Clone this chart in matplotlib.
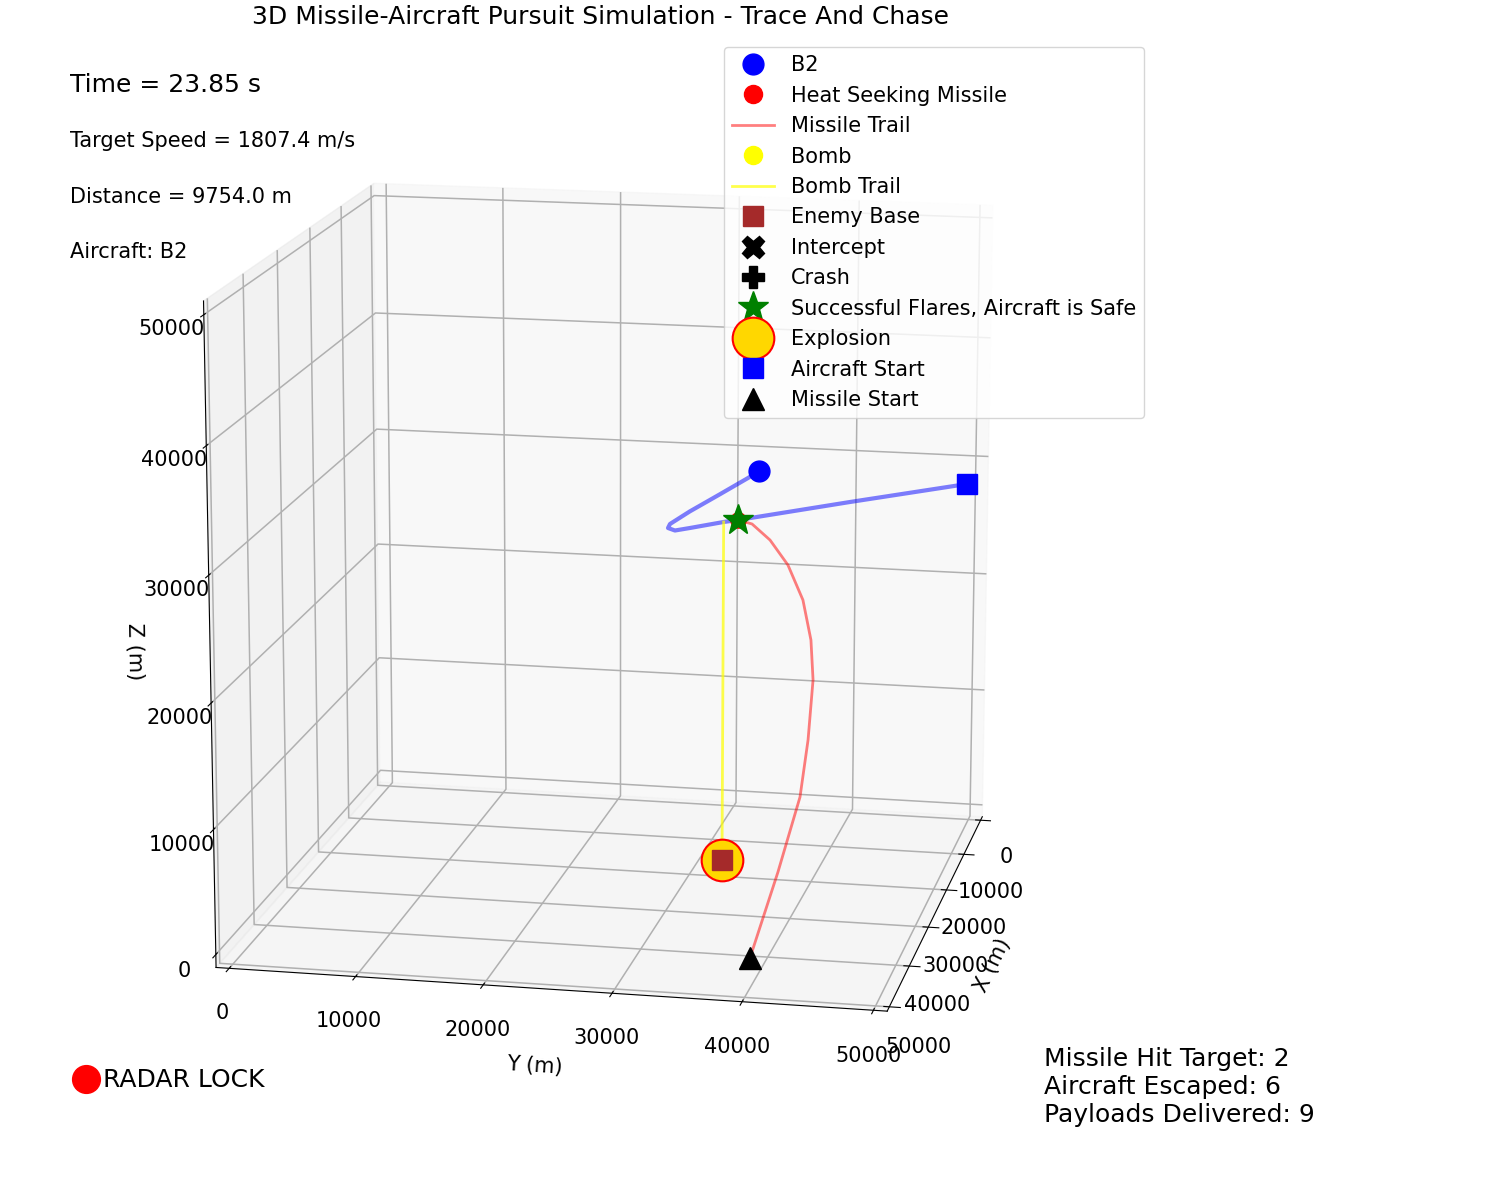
import matplotlib
matplotlib.use("Agg")
import matplotlib.pyplot as plt
from matplotlib.lines import Line2D

plt.rcParams['grid.linewidth'] = 1.1

AXIS_MAX = 50000
ticks = [0, 10000, 20000, 30000, 40000, 50000]

air_x = [1650, 9980, 18000, 18900, 21460, 22540, 21820, 20440, 15875, 9410, 3110, 370]
air_y = [49660, 41260, 33490, 32490, 30240, 29230, 28530, 28420, 29145, 30410, 31610, 32040]
air_z = [28210, 28210, 28210, 28210, 28210, 28210, 28210, 28210, 28210, 28210, 28210, 28210]

mis_x = [43640, 41080, 38510, 35950, 33380, 30820, 28260, 25690, 23130, 20560, 18000]
mis_y = [39260, 40940, 42170, 42330, 42250, 41630, 40540, 38890, 37000, 35090, 33490]
mis_z = [0, 6210, 11530, 15390, 19500, 22000, 24520, 26630, 27950, 28560, 28210]

bomb_x = [18900, 18900]
bomb_y = [32490, 32490]
bomb_z = [28210, 0]

base_x, base_y, base_z = [18900], [32490], [0]

W, H = 1511, 1201
def F(x, y):
    return x / W, 1 - y / H

fig = plt.figure(figsize=(W / 100, H / 100), dpi=100)
S = 1000
cx, cy = 603, 588
ax = fig.add_axes([(cx - S / 2) / W, 1 - (cy + S / 2) / H, S / W, S / H], projection="3d")
ax.computed_zorder = False
m = 1 / 48
ax.set_xlim(0, AXIS_MAX, view_margin=m)
ax.set_ylim(0, AXIS_MAX, view_margin=m)
ax.set_zlim(0, AXIS_MAX, view_margin=m)
ax.set_box_aspect((1, 1, 1), zoom=1.105)
ax.set_xticks(ticks); ax.set_yticks(ticks); ax.set_zticks(ticks)
ax.set_xlabel("X (m)", fontsize=15, labelpad=11)
ax.set_ylabel("Y (m)", fontsize=15, labelpad=12)
ax.set_zlabel("Z (m)", fontsize=15, labelpad=12)
ax.tick_params(labelsize=15)
ax.tick_params(axis='x', pad=8)
ax.tick_params(axis='y', pad=7)
ax.tick_params(axis='z', pad=6)
ax.view_init(elev=14, azim=11.6)

ax.plot(air_x, air_y, air_z, color="blue", alpha=0.5, lw=3, zorder=3)
ax.plot(mis_x, mis_y, mis_z, color="red", alpha=0.5, lw=2, zorder=3)
ax.plot(bomb_x, bomb_y, bomb_z, color="yellow", alpha=0.7, lw=2, zorder=3)
ax.plot(base_x, base_y, base_z, "o", color="gold", mec="red", mew=1.5, ms=30, zorder=4)
ax.plot(base_x, base_y, base_z, "s", color="brown", ms=14, zorder=5)
ax.plot(air_x[-1:], air_y[-1:], air_z[-1:], "o", color="blue", ms=15, zorder=5)
ax.plot(air_x[:1], air_y[:1], air_z[:1], "s", color="blue", ms=15, zorder=5)
ax.plot(mis_x[:1], mis_y[:1], mis_z[:1], "^", color="black", ms=16, zorder=5)
ax.plot(mis_x[-1:], mis_y[-1:], mis_z[-1:], "o", color="red", ms=11, zorder=5)
ax.plot(mis_x[-1:], mis_y[-1:], mis_z[-1:], "*", color="green", ms=23, zorder=6)

handles = [
    Line2D([], [], marker='o', color='blue', ls='', ms=15, label='B2'),
    Line2D([], [], marker='o', color='red', ls='', ms=13, label='Heat Seeking Missile'),
    Line2D([], [], color='red', alpha=0.5, lw=2, label='Missile Trail'),
    Line2D([], [], marker='o', color='yellow', ls='', ms=13, label='Bomb'),
    Line2D([], [], color='yellow', alpha=0.7, lw=2, label='Bomb Trail'),
    Line2D([], [], marker='s', color='brown', ls='', ms=14, label='Enemy Base'),
    Line2D([], [], marker='X', color='black', ls='', ms=16, label='Intercept'),
    Line2D([], [], marker='P', color='black', ls='', ms=16, label='Crash'),
    Line2D([], [], marker='*', color='green', ls='', ms=23, label='Successful Flares, Aircraft is Safe'),
    Line2D([], [], marker='o', color='gold', mec='red', mew=1.5, ls='', ms=30, label='Explosion'),
    Line2D([], [], marker='s', color='blue', ls='', ms=15, label='Aircraft Start'),
    Line2D([], [], marker='^', color='black', ls='', ms=16, label='Missile Start'),
]
fig.legend(handles=handles, loc='upper left', bbox_to_anchor=F(724, 47), borderaxespad=0, fontsize=15)

fig.text(*F(70, 85), "Time = 23.85 s", fontsize=18, va='center')
fig.text(*F(70, 141), "Target Speed = 1807.4 m/s", fontsize=15, va='center')
fig.text(*F(70, 197), "Distance = 9754.0 m", fontsize=15, va='center')
fig.text(*F(70, 252), "Aircraft: B2", fontsize=15, va='center')
fig.text(*F(103, 1080), "RADAR LOCK", fontsize=18, va='center')
fig.add_artist(Line2D([F(86, 0)[0]], [F(0, 1079)[1]], marker='o', color='red', ms=20, transform=fig.transFigure))
fig.text(*F(1044, 1087), "Missile Hit Target: 2\nAircraft Escaped: 6\nPayloads Delivered: 9", fontsize=18, va='center')
fig.text(*F(601, 17), "3D Missile-Aircraft Pursuit Simulation - Trace And Chase", fontsize=18, ha="center", va="center")
fig.savefig("out.png", dpi=100)
